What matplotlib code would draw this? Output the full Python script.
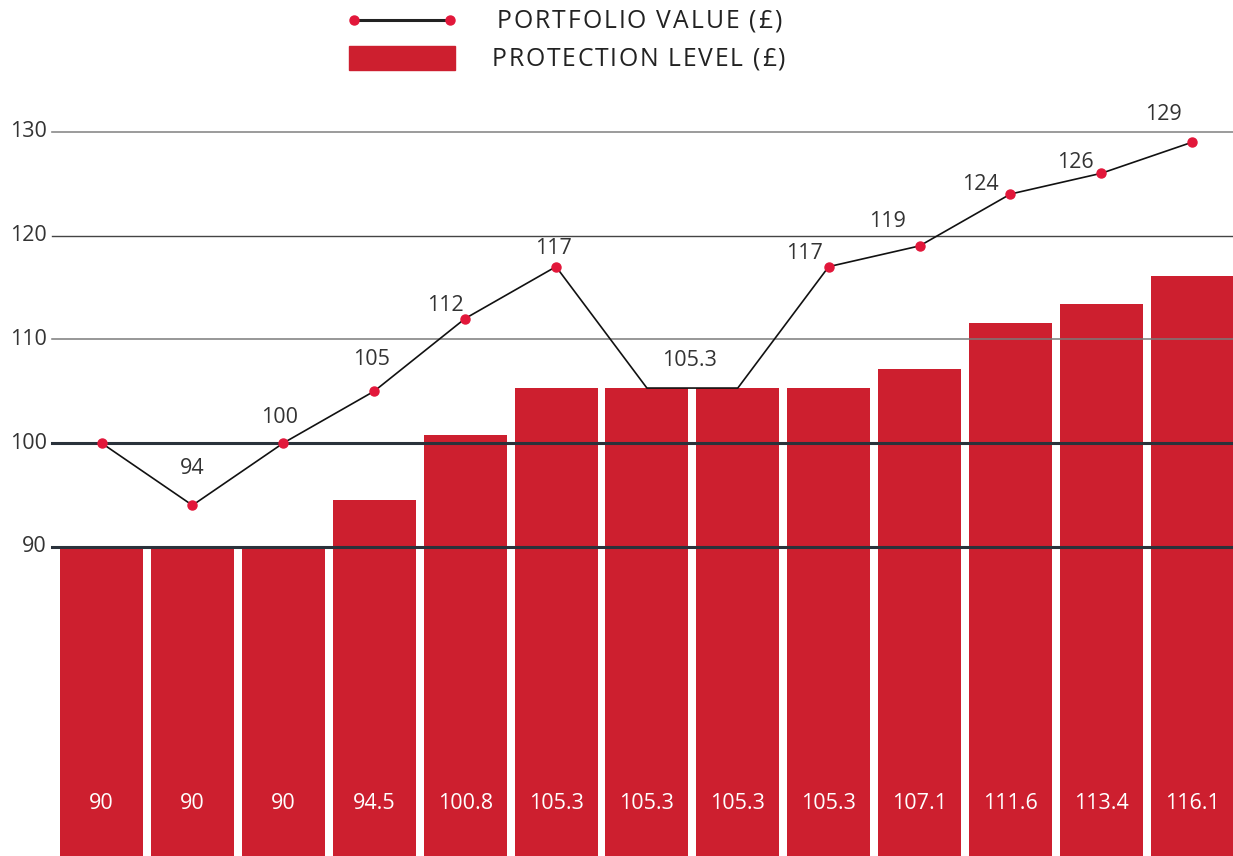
import matplotlib
matplotlib.use("Agg")
import matplotlib.pyplot as plt
from matplotlib.lines import Line2D
from matplotlib.patches import Rectangle
from matplotlib.font_manager import FontProperties

plt.rcParams['font.family'] = ['Open Sans', 'Lato', 'DejaVu Sans']

# ---- data ----
periods = list(range(13))
protection = [90, 90, 90, 94.5, 100.8, 105.3, 105.3, 105.3, 105.3, 107.1, 111.6, 113.4, 116.1]
portfolio = [100, 94, 100, 105, 112, 117, 105.3, 105.3, 117, 119, 124, 126, 129]
portfolio_labels = ["", "94", "100", "105", "112", "117", "105.3", "", "117", "119", "124", "126", "129"]
yticks = [90, 100, 110, 120, 130]
legend_line = "PORTFOLIO VALUE (£)"
legend_bar = "PROTECTION LEVEL (£)"

# ---- style ----
W, H = 1233, 856
RED = "#CD1F2F"
DOT = "#E2173A"
TXT = "#333333"
# label offsets in pixels (dx, dy) relative to each point
label_off = [(0, 0), (0, 37), (-4, 26), (-3, 32), (-20, 13), (-3, 18), (43, 28), (0, 0),
             (-24, 13), (-32, 24), (-30, 10), (-26, 11), (-29, 28)]
hidden_markers = {6, 7}

fig = plt.figure(figsize=(W / 100, H / 100), dpi=100)
ax = fig.add_axes([0, 0, 1, 1])
ax.set_axis_off()
ax.set_xlim(-1.117, 12.448)
ax.set_ylim(60.2, 142.7)

# bars
ax.bar(periods, protection, width=0.913, color=RED, zorder=2)
for x, v in zip(periods, protection):
    ax.text(x, 65.3, f"{v:g}", color="white", ha="center", va="center",
            fontsize=15.5, zorder=5)

# grid lines (drawn over bars)
grid_style = {90: ("#2a323b", 2.2), 100: ("#2a323b", 2.2), 110: ("#7a7a7a", 1.1),
              120: ("#444444", 1.0), 130: ("#8a8a8a", 1.2)}
for t in yticks:
    c, lw = grid_style[t]
    ax.axhline(t, xmin=52 / W, xmax=1, color=c, lw=lw, zorder=3)
    ax.text(47 / W, t, str(t), transform=ax.get_yaxis_transform(), ha="right",
            va="center", fontsize=15.5, color=TXT, zorder=5)

# portfolio line
marks = [i for i in periods if i not in hidden_markers]
ax.plot(periods, portfolio, color="#111111", lw=1.2, zorder=4,
        marker="o", markersize=6.5, markerfacecolor=DOT, markeredgecolor=DOT,
        markevery=marks)
for i, (v, lab) in enumerate(zip(portfolio, portfolio_labels)):
    if lab:
        dx, dy = label_off[i]
        ax.annotate(lab, (i, v), xytext=(dx, dy), textcoords="offset pixels",
                    ha="center", va="center", fontsize=15.5, color=TXT, zorder=5)

# legend (figure coords)
def fx(px):
    return px / W

def fy(py):
    return 1 - py / H

renderer = fig.canvas.get_renderer()
fp = FontProperties(family=['Open Sans', 'DejaVu Sans'], size=17.8)

def tw(s):
    return renderer.get_text_width_height_descent(s, fp, ismath=False)[0]

def tracked_text(x0, yc, s, target_w):
    natural = tw(s)
    extra = (target_w - natural) / (len(s) - 1)
    base = tw("x")
    for k, ch in enumerate(s):
        if ch == " ":
            continue
        xk = x0 + (tw(s[:k] + "x") - base if k else 0) + k * extra
        fig.text(fx(xk), fy(yc), ch, ha="left", va="center", fontproperties=fp,
                 color="#222222")

fig.add_artist(Line2D([fx(354), fx(450)], [fy(20), fy(20)], color="#222222", lw=2.2,
                      marker="o", markersize=6.5, markerfacecolor=DOT,
                      markeredgecolor=DOT, transform=fig.transFigure))
fig.add_artist(Rectangle((fx(349), fy(70)), 106 / W, 24 / H, color=RED,
                         transform=fig.transFigure))
tracked_text(497, 21, legend_line, 285)
tracked_text(492, 59, legend_bar, 293)

fig.savefig("out.png", dpi=100)
